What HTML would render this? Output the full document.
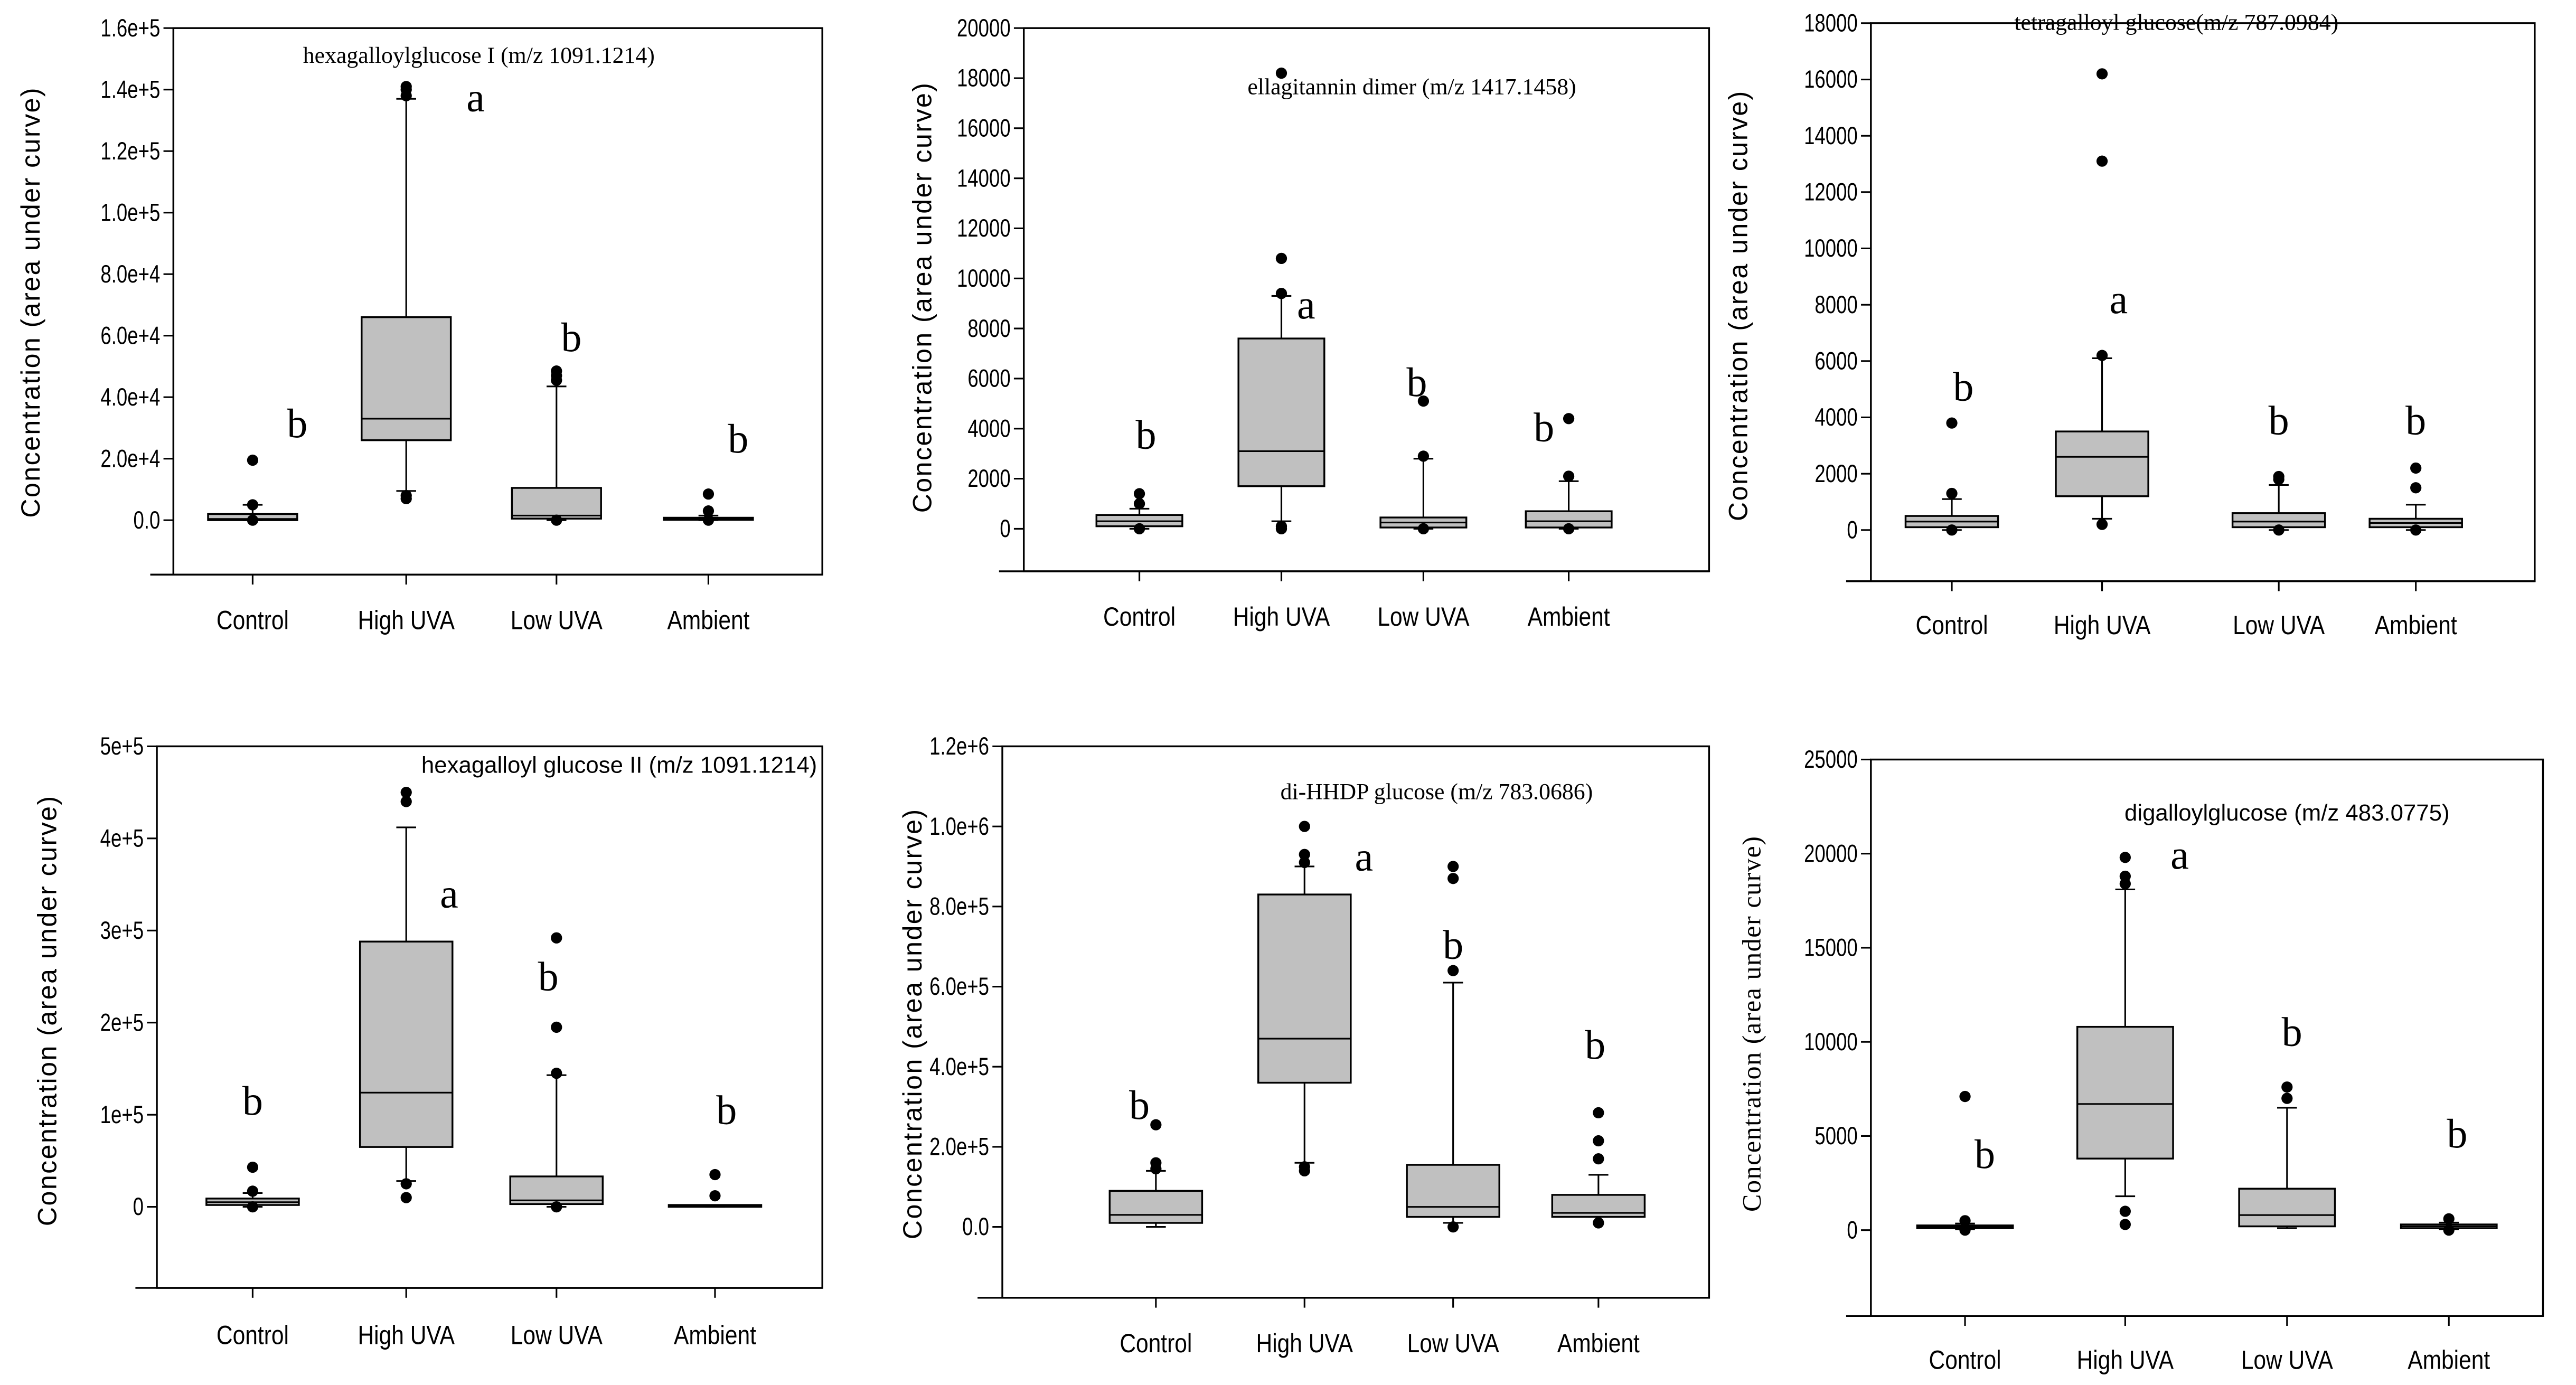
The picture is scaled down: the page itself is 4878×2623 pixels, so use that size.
<!DOCTYPE html>
<html><head><meta charset="utf-8">
<style>
html,body{margin:0;padding:0;background:#fff;}
svg{display:block;}
.s{font-family:"Liberation Sans",sans-serif;}
.r{font-family:"Liberation Serif",serif;}
</style></head>
<body>
<svg id="fig" width="4878" height="2623" viewBox="0 0 1560 838.8" xmlns="http://www.w3.org/2000/svg"></svg>
<script>
const categories = ["Control","High UVA","Low UVA","Ambient"];

// Panel 1: hexagalloylglucose I
const p1Stats = [[0,0,400,2000,5000],[9500,26000,33000,66000,137000],[0,500,1500,10500,43500],[0,100,400,800,1500]];
const p1Outliers = [[19500,5000,0],[7000,8000,138000,140000,141000],[45500,47000,48500,0],[8500,3000,0]];
const p1Ticks = [0,20000,40000,60000,80000,100000,120000,140000,160000];
const p1TickLabels = ["0.0","2.0e+4","4.0e+4","6.0e+4","8.0e+4","1.0e+5","1.2e+5","1.4e+5","1.6e+5"];
const p1Letters = ["b","a","b","b"];
const p1LetterVals = [27000,133000,55000,22000];

// Panel 2: ellagitannin dimer
const p2Stats = [[0,100,300,550,800],[300,1700,3100,7600,9300],[0,50,250,450,2800],[0,50,300,700,1900]];
const p2Outliers = [[1400,1000,0],[10800,9400,18200,0,100],[5100,2900,0],[4400,2100,0]];
const p2Ticks = [0,2000,4000,6000,8000,10000,12000,14000,16000,18000,20000];
const p2TickLabels = ["0","2000","4000","6000","8000","10000","12000","14000","16000","18000","20000"];
const p2Letters = ["b","a","b","b"];
const p2LetterVals = [3200,8400,5300,3500];

// Panel 3: tetragalloyl glucose
const p3Stats = [[0,100,300,500,1100],[400,1200,2600,3500,6100],[0,100,300,600,1600],[0,100,250,400,900]];
const p3Outliers = [[3800,1300,0],[13100,16200,6200,200],[1900,1800,0],[2200,1500,0]];
const p3Ticks = [0,2000,4000,6000,8000,10000,12000,14000,16000,18000];
const p3TickLabels = ["0","2000","4000","6000","8000","10000","12000","14000","16000","18000"];
const p3Letters = ["b","a","b","b"];
const p3LetterVals = [4600,7700,3400,3400];

// Panel 4: hexagalloyl glucose II
const p4Stats = [[0,2000,5000,9000,15000],[28000,65000,124000,288000,412000],[0,3000,7000,33000,143000],[0,0,1000,2000,2000]];
const p4Outliers = [[43000,17000,0],[440000,450000,25000,10000],[292000,195000,145000,0],[35000,12000]];
const p4Ticks = [0,100000,200000,300000,400000,500000];
const p4TickLabels = ["0","1e+5","2e+5","3e+5","4e+5","5e+5"];
const p4Letters = ["b","a","b","b"];
const p4LetterVals = [100000,325000,235000,90000];

// Panel 5: di-HHDP glucose
const p5Stats = [[0,10000,30000,90000,140000],[160000,360000,470000,830000,900000],[10000,25000,50000,155000,610000],[25000,25000,35000,80000,130000]];
const p5Outliers = [[255000,160000,145000],[1000000,930000,910000,140000,150000],[900000,870000,640000,0],[285000,215000,170000,10000]];
const p5Ticks = [0,200000,400000,600000,800000,1000000,1200000];
const p5TickLabels = ["0.0","2.0e+5","4.0e+5","6.0e+5","8.0e+5","1.0e+6","1.2e+6"];
const p5Letters = ["b","a","b","b"];
const p5LetterVals = [270000,890000,670000,420000];

// Panel 6: digalloylglucose
const p6Stats = [[50,100,180,250,350],[1800,3800,6700,10800,18100],[100,200,800,2200,6500],[50,100,200,300,400]];
const p6Outliers = [[7100,500,0],[19800,18800,18400,1000,300],[7600,7000],[600,0]];
const p6Ticks = [0,5000,10000,15000,20000,25000];
const p6TickLabels = ["0","5000","10000","15000","20000","25000"];
const p6Letters = ["b","a","b","b"];
const p6LetterVals = [3300,19200,9800,4400];

const panels = [
 {id:"hexagalloylglucose-i",L:105,R:498,T:17,B:348,AL:91,yMin:-17700,yMax:160000,cx:[153,246,337,429],bw:27,lblY:381,
  title:"hexagalloylglucose I (m/z 1091.1214)",tx:290,ty:38,tcls:"r",tfs:14,yt:{x:24,y:183,cls:"s"},lx:[180,288,346,447],
  stats:p1Stats,out:p1Outliers,ticks:p1Ticks,tl:p1TickLabels,letters:p1Letters,lv:p1LetterVals},
 {id:"ellagitannin-dimer",L:620,R:1035,T:17,B:346,AL:605,yMin:-1700,yMax:20000,cx:[690,776,862,950],bw:26,lblY:379,
  title:"ellagitannin dimer (m/z 1417.1458)",tx:855,ty:57,tcls:"r",tfs:14,yt:{x:564,y:180,cls:"s"},lx:[694,791,858,935],
  stats:p2Stats,out:p2Outliers,ticks:p2Ticks,tl:p2TickLabels,letters:p2Letters,lv:p2LetterVals},
 {id:"tetragalloyl-glucose",L:1133,R:1535,T:14,B:352,AL:1118,yMin:-1818,yMax:18000,cx:[1182,1273,1380,1463],bw:28,lblY:384,
  title:"tetragalloyl glucose(m/z 787.0984)",tx:1318,ty:18,tcls:"r",tfs:14,yt:{x:1058,y:185,cls:"s"},lx:[1189,1283,1380,1463],
  stats:p3Stats,out:p3Outliers,ticks:p3Ticks,tl:p3TickLabels,letters:p3Letters,lv:p3LetterVals},
 {id:"hexagalloyl-glucose-ii",L:95,R:498,T:452,B:780,AL:82,yMin:-88000,yMax:500000,cx:[153,246,337,433],bw:28,lblY:814,
  title:"hexagalloyl glucose II (m/z 1091.1214)",tx:375,ty:468,tcls:"s",tfs:14,yt:{x:34,y:612,cls:"s"},lx:[153,272,332,440],
  stats:p4Stats,out:p4Outliers,ticks:p4Ticks,tl:p4TickLabels,letters:p4Letters,lv:p4LetterVals},
 {id:"di-hhdp-glucose",L:607,R:1035,T:452,B:786,AL:592,yMin:-177000,yMax:1200000,cx:[700,790,880,968],bw:28,lblY:819,
  title:"di-HHDP glucose (m/z 783.0686)",tx:870,ty:484,tcls:"r",tfs:14,yt:{x:558,y:620,cls:"s"},lx:[690,826,880,966],
  stats:p5Stats,out:p5Outliers,ticks:p5Ticks,tl:p5TickLabels,letters:p5Letters,lv:p5LetterVals},
 {id:"digalloylglucose",L:1133,R:1540,T:460,B:797,AL:1118,yMin:-4560,yMax:25000,cx:[1190,1287,1385,1483],bw:29,lblY:829,
  title:"digalloylglucose (m/z 483.0775)",tx:1385,ty:497,tcls:"s",tfs:14,yt:{x:1066,y:620,cls:"r"},lx:[1202,1320,1388,1488],
  stats:p6Stats,out:p6Outliers,ticks:p6Ticks,tl:p6TickLabels,letters:p6Letters,lv:p6LetterVals}
];

const NS="http://www.w3.org/2000/svg";
const svg=document.getElementById("fig");
function mk(tag,attrs,parent,text){const e=document.createElementNS(NS,tag);for(const k in attrs)e.setAttribute(k,attrs[k]);if(text!==undefined)e.textContent=text;parent.appendChild(e);return e;}
function condense(el,f){try{const w=el.getComputedTextLength();if(w>0){el.setAttribute("textLength",(w*f).toFixed(2));el.setAttribute("lengthAdjust","spacingAndGlyphs");}}catch(e){}}

panels.forEach(p=>{
  const y=v=>p.B-(v-p.yMin)/(p.yMax-p.yMin)*(p.B-p.T);
  const g=mk("g",{},svg);
  
  
  const fr=mk("rect",{x:p.L,y:p.T,width:p.R-p.L,height:p.B-p.T,fill:"none",stroke:"#000","stroke-width":1.1},g);
  
  
  const bl=mk("line",{x1:p.AL,y1:p.B,x2:p.R,y2:p.B,stroke:"#000","stroke-width":1.1},g);
  
  
  p.ticks.forEach((t,i)=>{
    const yy=y(t);
    const tk=mk("line",{x1:p.L-6,y1:yy,x2:p.L,y2:yy,stroke:"#000","stroke-width":1},g);
    
    
    const lb=mk("text",{x:p.L-8,y:yy+5,"text-anchor":"end","font-size":15,class:"s"},g,p.tl[i]);
    
    
    condense(lb,0.78);
  });
  const yt=mk("text",{x:p.yt.x,y:p.yt.y,"text-anchor":"middle","font-size":16,class:p.yt.cls,transform:`rotate(-90 ${p.yt.x} ${p.yt.y})`,"letter-spacing":p.yt.cls==="s"?"0.8":"0.5"},g,"Concentration (area under curve)");
  
  
  const tt=mk("text",{x:p.tx,y:p.ty,"text-anchor":"middle","font-size":p.tfs,class:p.tcls},g,p.title);
  
  
  categories.forEach((c,i)=>{
    const cx=p.cx[i],s=p.stats[i],hw=p.bw;
    const xt=mk("line",{x1:cx,y1:p.B,x2:cx,y2:p.B+6,stroke:"#000","stroke-width":1},g);
    
    
    const xl=mk("text",{x:cx,y:p.lblY,"text-anchor":"middle","font-size":16,class:"s"},g,c);
    
    
    condense(xl,0.85);
    const bg=mk("g",{},g);
    
    
    mk("line",{x1:cx,y1:y(s[0]),x2:cx,y2:y(s[1]),stroke:"#000","stroke-width":1},bg);
    mk("line",{x1:cx,y1:y(s[3]),x2:cx,y2:y(s[4]),stroke:"#000","stroke-width":1},bg);
    mk("line",{x1:cx-6,y1:y(s[0]),x2:cx+6,y2:y(s[0]),stroke:"#000","stroke-width":1},bg);
    mk("line",{x1:cx-6,y1:y(s[4]),x2:cx+6,y2:y(s[4]),stroke:"#000","stroke-width":1},bg);
    const h=Math.max(y(s[1])-y(s[3]),1);
    mk("rect",{x:cx-hw,y:y(s[3]),width:2*hw,height:h,fill:"#c0c0c0",stroke:"#000","stroke-width":1.1},bg);
    mk("line",{x1:cx-hw,y1:y(s[2]),x2:cx+hw,y2:y(s[2]),stroke:"#000","stroke-width":1},bg);
    p.out[i].forEach(v=>{
      const o=mk("circle",{cx:cx,cy:y(v),r:3.4,fill:"#000"},bg);
      
      
    });
    const lt=mk("text",{x:p.lx[i],y:y(p.lv[i]),"text-anchor":"middle","font-size":25,class:"r"},g,p.letters[i]);
    
    
  });
});
</script>
</body></html>
